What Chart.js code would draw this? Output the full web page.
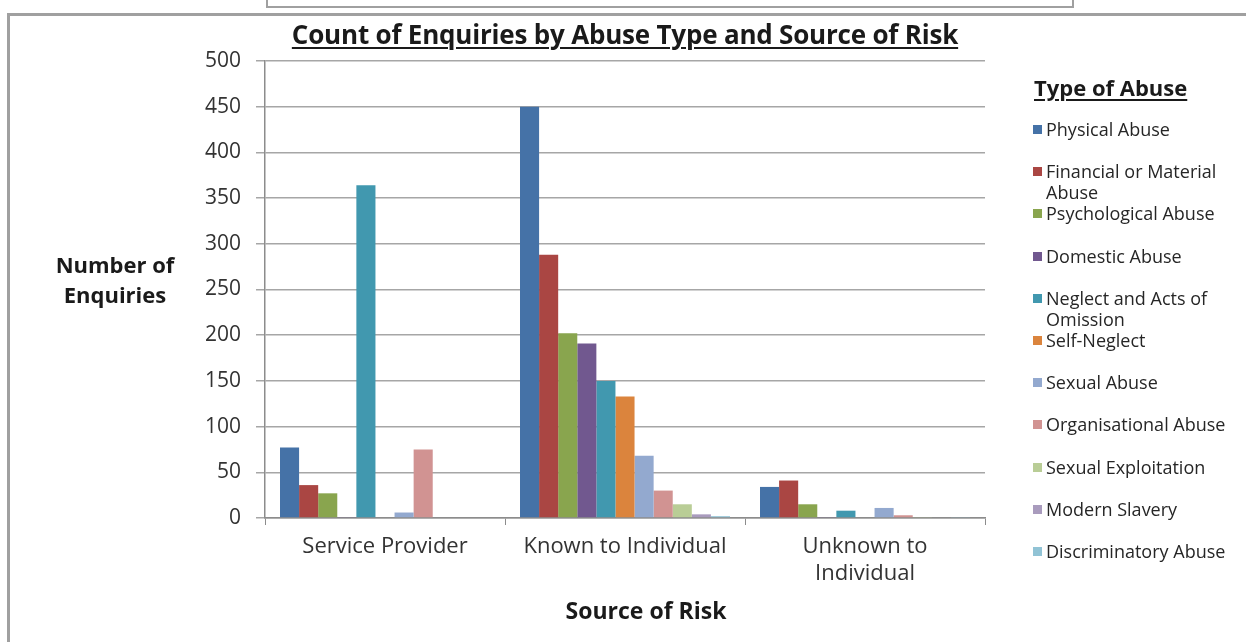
<!DOCTYPE html>
<html>
<head>
<meta charset="utf-8">
<script src="https://cdn.jsdelivr.net/npm/chart.js@4"></script>
<style>
  html, body { margin: 0; padding: 0; background: #fff; }
  body { width: 1246px; height: 642px; position: relative; overflow: hidden; font-family: "Open Sans", sans-serif; color: #1a1a1a; }
  #topBox { position: absolute; left: 266px; top: -2px; width: 804px; height: 8px; border: 2px solid #a0a0a0; border-top: none; }
  #frame { position: absolute; left: 7px; top: 13px; width: 1260px; height: 700px; border-left: 3px solid #a0a0a0; border-top: 3px solid #a0a0a0; }
  canvas { position: absolute; left: 0; top: 0; }
  .txt { position: absolute; white-space: pre-line; }
  #title { left: 0; width: 1250px; top: 16px; text-align: center; font-weight: bold; font-size: 26px; letter-spacing: -0.2px; text-decoration: underline; text-decoration-thickness: 2px; text-underline-offset: 3px; }
  #yTitle { left: 40px; width: 150px; top: 249px; text-align: center; font-weight: bold; font-size: 22px; line-height: 30px; }
  #xTitle { left: 526px; width: 240px; top: 594px; text-align: center; font-weight: bold; font-size: 23px; }
  #legendTitle { left: 1034px; top: 72px; font-weight: bold; font-size: 22px; text-decoration: underline; text-decoration-thickness: 2px; text-underline-offset: 3px; }
  .item { position: absolute; left: 1033px; font-size: 18px; line-height: 21px; color: #262626; }
  .item i { position: absolute; left: 0; top: 6px; width: 9px; height: 9px; }
  .item span { display: block; margin-left: 13px; white-space: pre; }
</style>
</head>
<body>
<div id="topBox"></div>
<div id="frame"></div>
<canvas id="chart" width="1246" height="642"></canvas>
<div class="txt" id="title">Count of Enquiries by Abuse Type and Source of Risk</div>
<div class="txt" id="yTitle">Number of
Enquiries</div>
<div class="txt" id="xTitle">Source of Risk</div>
<div class="txt" id="legendTitle">Type of Abuse</div>
<div id="legend"></div>
<script>
// sources of risk (x categories)
const sources = ['Service Provider', 'Known to Individual', ['Unknown to', 'Individual']];

// type of abuse, one series each
const abuseTypes = [
  'Physical Abuse', 'Financial or Material\nAbuse', 'Psychological Abuse', 'Domestic Abuse',
  'Neglect and Acts of\nOmission', 'Self-Neglect', 'Sexual Abuse', 'Organisational Abuse',
  'Sexual Exploitation', 'Modern Slavery', 'Discriminatory Abuse'
];
const abuseColors = [
  '#4572A7', '#AA4643', '#89A54E', '#71588F', '#4198AF', '#DB843D',
  '#93A9CF', '#D19392', '#B9CD96', '#A99BBD', '#91C3D5'
];

// counts per source: [service provider, known, unknown]
const physical       = [77, 450, 34];
const financial      = [36, 288, 41];
const psychological  = [27, 202, 15];
const domestic       = [1, 191, 1];
const neglect        = [364, 150, 8];
const selfNeglect    = [0, 133, 0];
const sexual         = [6, 68, 11];
const organisational = [75, 30, 3];
const sexualExploit  = [0, 15, 1];
const modernSlavery  = [0, 4, 0];
const discriminatory = [0, 2, 1];

const seriesValues = [physical, financial, psychological, domestic, neglect, selfNeglect,
  sexual, organisational, sexualExploit, modernSlavery, discriminatory];

const yTicks = [0, 50, 100, 150, 200, 250, 300, 350, 400, 450, 500];

const datasets = abuseTypes.map(function (name, i) {
  return {
    label: name, data: seriesValues[i],
    backgroundColor: abuseColors[i], borderWidth: 0,
    categoryPercentage: 0.875, barPercentage: 1.0
  };
});

const chart = new Chart(document.getElementById('chart'), {
  type: 'bar',
  data: { labels: sources, datasets: datasets },
  options: {
    responsive: false, animation: false,
    layout: { padding: { top: 61, right: 261, left: 0, bottom: 0 } },
    plugins: { legend: { display: false }, tooltip: { enabled: false } },
    scales: {
      x: {
        offset: true,
        grid: { drawOnChartArea: false, tickLength: 7, color: '#8c8c8c' },
        border: { color: '#8c8c8c', width: 1.5 },
        ticks: { color: '#333', padding: 9, font: { family: 'Open Sans', size: 22, lineHeight: 1.2 } },
        afterFit: function (s) { s.height = 124; }
      },
      y: {
        min: 0, max: 500,
        afterBuildTicks: function (s) { s.ticks = yTicks.map(function (v) { return { value: v }; }); },
        grid: { color: '#a6a6a6', lineWidth: 1.5, tickLength: 9 },
        border: { color: '#8c8c8c', width: 1.5 },
        ticks: { color: '#333', padding: 15, font: { family: 'Open Sans', size: 21 } },
        afterFit: function (s) { s.width = 265; }
      }
    }
  }
});

// html legend, one slot per series
const legendBox = document.getElementById('legend');
chart.data.datasets.forEach(function (ds, i) {
  const el = document.createElement('div');
  el.className = 'item';
  el.style.top = (119 + i * 42.2) + 'px';
  el.innerHTML = '<i style="background:' + ds.backgroundColor + '"></i><span></span>';
  el.querySelector('span').textContent = ds.label;
  legendBox.appendChild(el);
});
</script>
</body>
</html>
